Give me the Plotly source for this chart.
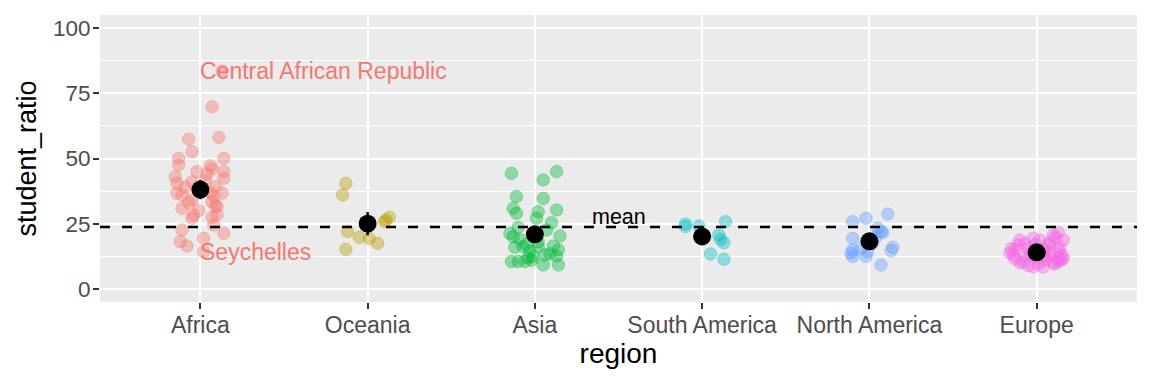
import numpy as np
import plotly.graph_objects as go

regions = ["Africa", "Oceania", "Asia", "South America", "North America", "Europe"]
colors = ["#F8766D", "#B79F00", "#00BA38", "#00BFC4", "#619CFF", "#F564E3"]

africa = [83.5, 69.8, 57.4, 58.1, 52.6, 50.1, 50.1, 47.5, 47.2, 45.0, 45.0, 43.0, 42.4, 40.5, 41.1,
          39.2, 36.7, 36.7, 36.0, 34.1, 33.4, 32.0, 30.9, 31.5, 28.4, 28.4, 27.1, 30.0, 24.5, 22.6,
          21.3, 19.4, 18.1, 16.5, 14.3, 39.0, 41.5, 37.0, 33.0, 35.5, 46.0, 27.5, 44.0]
africa_jit = [0.13, 0.07, -0.07, 0.11, -0.05, -0.13, 0.14, -0.13, 0.06, -0.02, 0.14, -0.15, 0.14, -0.14, -0.05,
              0.09, -0.14, 0.13, -0.11, -0.05, 0.07, 0.09, -0.11, 0.10, 0.10, -0.04, -0.05, -0.01, 0.08, -0.11,
              0.14, 0.02, -0.12, -0.08, 0.02, -0.09, 0.03, 0.06, -0.07, 0.08, 0.07, 0.07, 0.04]

oceania = [40.5, 36.0, 26.4, 27.5, 25.8, 22.0, 19.8, 19.4, 17.5, 15.2]
oceania_jit = [-0.13, -0.15, 0.11, 0.13, 0.10, -0.12, -0.05, 0.01, 0.06, -0.13]

asia = [44.3, 45.0, 41.8, 35.4, 34.7, 30.9, 30.3, 29.0, 29.6, 27.1, 25.4, 23.6, 22.6, 21.3, 20.3,
        20.0, 16.2, 16.5, 16.2, 12.6, 10.5, 10.5, 12.4, 9.2, 9.2, 19.0, 17.0, 14.5, 13.0, 16.0,
        10.5, 18.0, 15.0, 12.0, 11.0, 13.5]
asia_jit = [-0.14, 0.13, 0.05, -0.11, 0.05, -0.13, 0.13, -0.11, 0.02, 0.01, 0.10, -0.10, 0.07, -0.15, 0.15,
            -0.13, -0.07, 0.11, 0.02, 0.13, -0.14, -0.10, -0.01, 0.05, 0.14, -0.09, -0.05, -0.03, 0.06, -0.12,
            -0.06, 0.02, 0.14, -0.04, -0.02, 0.09]

south_america = [24.9, 23.9, 24.1, 25.8, 20.7, 19.0, 17.7, 13.4, 11.4]
south_america_jit = [-0.10, -0.10, -0.02, 0.14, 0.10, 0.11, 0.13, 0.05, 0.13]

north_america = [28.7, 27.1, 25.8, 23.3, 21.6, 19.4, 20.0, 16.0, 14.7, 14.9, 13.7, 12.4, 12.4, 14.3,
                 9.2, 22.0, 17.5, 15.5]
north_america_jit = [0.11, -0.02, -0.10, 0.05, 0.08, -0.10, 0.04, 0.14, 0.13, -0.10, -0.11, -0.10, -0.02, -0.01,
                     0.07, 0.07, 0.02, -0.05]

europe = [20.7, 21.5, 18.8, 19.5, 14.9, 13.8, 18.8, 19.5, 18.8, 16.9, 11.9, 11.9, 10.3, 8.4, 8.4,
          10.0, 12.3, 16.9, 14.9, 13.0, 15.5, 17.5, 12.5, 11.0, 9.5, 15.0, 13.5, 11.5, 16.0, 12.0,
          14.0, 17.0, 10.5, 13.0, 15.5, 9.0, 18.0, 12.8, 10.0, 11.0, 9.5]
europe_jit = [0.10, 0.13, 0.16, 0.11, -0.13, -0.16, -0.10, -0.02, 0.02, 0.07, 0.13, 0.16, -0.08, -0.02, 0.04,
              0.10, -0.07, -0.11, 0.13, -0.14, -0.05, -0.07, 0.07, 0.15, 0.01, 0.05, -0.04, -0.13, 0.14, -0.01,
              0.08, -0.01, 0.13, 0.15, -0.15, -0.05, 0.08, 0.04, -0.10, 0.05, 0.11]

values = [africa, oceania, asia, south_america, north_america, europe]
jitters = [africa_jit, oceania_jit, asia_jit, south_america_jit, north_america_jit, europe_jit]

label_texts = ["Central African Republic", "Seychelles"]
label_values = [max(africa), min(africa)]

FONT = "Liberation Sans, Arial, sans-serif"


def rgba(hexc, a):
    h = hexc.lstrip("#")
    r, g, b = int(h[0:2], 16), int(h[2:4], 16), int(h[4:6], 16)
    return f"rgba({r},{g},{b},{a})"


fig = go.Figure()

for i, (vals, jit, col) in enumerate(zip(values, jitters, colors)):
    fig.add_trace(go.Scatter(
        x=[i + j for j in jit], y=vals, mode="markers",
        marker=dict(size=12.5, color=rgba(col, 0.4), line=dict(color=rgba(col, 0.35), width=1)),
        showlegend=False, hoverinfo="skip"))

all_vals = np.concatenate([np.array(v) for v in values])
world_mean = float(all_vals.mean())

fig.add_trace(go.Scatter(
    x=[-0.6, 5.6], y=[world_mean, world_mean], mode="lines",
    line=dict(color="black", width=2.5, dash="10px,12px"),
    showlegend=False, hoverinfo="skip"))

means = [float(np.mean(v)) for v in values]
ci = []
for v in values:
    a = np.array(v)
    se = a.std(ddof=1) / np.sqrt(len(a))
    ci.append(float(1.75 * se))

fig.add_trace(go.Scatter(
    x=list(range(len(regions))), y=means, mode="markers",
    marker=dict(size=18, color="black"),
    error_y=dict(type="data", array=ci, color="black", thickness=2.5, width=0),
    showlegend=False, hoverinfo="skip"))

for txt, val in zip(label_texts, label_values):
    fig.add_annotation(x=0, y=val, text=txt, showarrow=False, xanchor="left", yanchor="middle",
                       font=dict(family=FONT, size=23, color="#F8766D"), xshift=-2)

fig.add_annotation(x=2.5, y=world_mean, text="mean", showarrow=False, xanchor="center", yanchor="bottom",
                   font=dict(family=FONT, size=21.5, color="black"), yshift=-4)

# page body has an 8px default margin, so the figure is offset by 8px; compensate in the margins
fig.update_layout(
    width=1152, height=384,
    margin=dict(l=92, r=23, t=7, b=90, autoexpand=False),
    paper_bgcolor="white", plot_bgcolor="#EBEBEB",
    font=dict(family=FONT, color="black"),
    xaxis=dict(
        range=[-0.6, 5.6], tickmode="array", tickvals=list(range(len(regions))), ticktext=regions,
        showgrid=True, gridcolor="white", gridwidth=2, zeroline=False, showline=False,
        ticks="outside", ticklen=6, tickwidth=2, tickcolor="#333333",
        ticklabelstandoff=-4,
        tickfont=dict(family=FONT, size=23, color="#4D4D4D"),
        title=dict(text="region", font=dict(family=FONT, size=28, color="black"), standoff=6),
    ),
    yaxis=dict(
        range=[-5, 105], tickmode="array", tickvals=[0, 25, 50, 75, 100],
        showgrid=True, gridcolor="white", gridwidth=2, zeroline=False, showline=False,
        minor=dict(tickvals=[12.5, 37.5, 62.5, 87.5], showgrid=True, gridcolor="white", gridwidth=1, ticks=""),
        ticks="outside", ticklen=6, tickwidth=2, tickcolor="#333333",
        ticklabelstandoff=-2,
        tickfont=dict(family=FONT, size=22.5, color="#4D4D4D"),
        title=dict(text="student_ratio", font=dict(family=FONT, size=27, color="black"), standoff=8),
    ),
)

fig.write_html("out.html")
